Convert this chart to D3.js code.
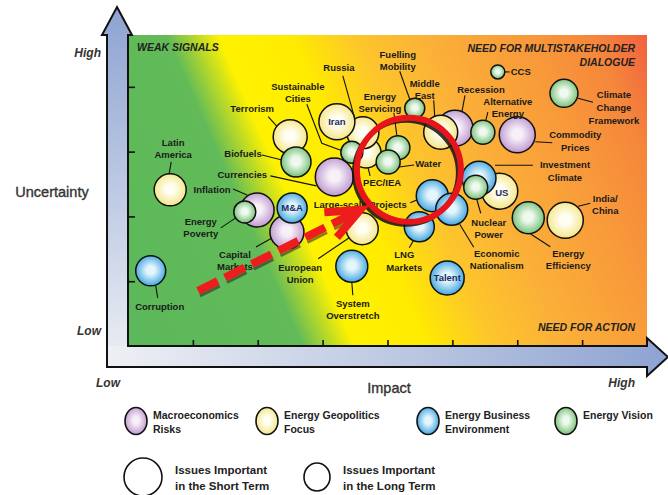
<!DOCTYPE html>
<html>
<head>
<meta charset="utf-8">
<script src="https://cdn.jsdelivr.net/npm/d3@7/dist/d3.min.js"></script>
<style>
  body { margin: 0; background: #fff; }
  svg { display: block; font-family: "Liberation Sans", Arial, sans-serif; }
</style>
</head>
<body>
<div id="chart"></div>
<script>
// Issue map: impact (x) against uncertainty (y), bubble colour = theme

const themes = ["Macroeconomics Risks", "Energy Geopolitics Focus", "Energy Business Environment", "Energy Vision"];
const themeLegend = [["Macroeconomics", "Risks"], ["Energy Geopolitics", "Focus"], ["Energy Business", "Environment"], ["Energy Vision"]];
const themeFills = [["#f7f0f9", "#bb92cb"], ["#fffef3", "#f4e47f"], ["#e4f5fd", "#36a1de"], ["#eff9ef", "#6dbd6d"]];

// listed in drawing order (back to front)
const issues = [
  "Latin America", "Corruption", "Inflation", "Energy Poverty", "Capital Markets", "M&A",
  "Terrorism", "Biofuels", "Currencies", "PEC/IEA", "Russia", "Iran", "Sustainable Cities",
  "Energy Servicing", "Water", "Fuelling Mobility", "Recession", "Middle East",
  "Alternative Energy", "CCS", "Climate Change Framework", "Commodity Prices", "US",
  "Investment Climate", "Nuclear Power", "India/China", "Energy Efficiency",
  "Large-scale Projects", "LNG Markets", "Economic Nationalism", "Talent",
  "System Overstretch", "European Union"
];
const issueTheme = [
  1, 2, 0, 3, 0, 2,
  1, 3, 0, 1, 1, 1, 3,
  3, 3, 3, 0, 1,
  3, 3, 3, 0, 1,
  2, 3, 1, 3,
  2, 2, 2, 2,
  2, 1
];
const impact = [
  0.65, 0.35, 1.99, 1.80, 2.45, 2.53,
  2.50, 2.59, 3.18, 3.67, 3.62, 3.22, 3.45,
  4.16, 4.01, 4.42, 5.04, 4.82,
  5.47, 5.70, 6.72, 6.00, 5.73,
  5.41, 5.36, 6.74, 6.17,
  4.69, 4.49, 4.99, 4.92,
  3.45, 3.61
];
const uncertainty = [
  2.41, 1.16, 2.10, 2.07, 1.76, 2.13,
  3.23, 2.84, 2.61, 2.98, 3.29, 3.46, 2.99,
  3.06, 2.84, 3.67, 3.36, 3.30,
  3.30, 4.23, 3.90, 3.26, 2.39,
  2.59, 2.45, 1.94, 1.98,
  2.32, 1.84, 2.11, 1.05,
  1.23, 1.81
];
const bubbleSize = [
  8.0, 7.5, 8.5, 5.5, 8.5, 7.5,
  8.5, 7.5, 9.5, 7.5, 8.0, 9.0, 5.5,
  6.0, 6.0, 5.0, 9.0, 8.5,
  6.0, 3.5, 7.0, 9.0, 9.0,
  8.5, 6.0, 9.0, 8.0,
  8.0, 7.5, 8.0, 8.5,
  8.0, 8.0
];

const impactTicks = [1, 2, 3, 4, 5, 6, 7];
const uncertaintyTicks = [1, 2, 3, 4];

// label text, offset of first line from bubble centre, leader line points (all px)
const labelLayout = {
  "Latin America": { text: ["Latin", "America"], at: [3, -47], lead: [[1, -28], [-1, -16]] },
  "Corruption": { text: ["Corruption"], at: [9, 36], lead: [[5, 15], [7, 27]] },
  "Inflation": { text: ["Inflation"], at: [-45, -20], lead: [[-24, -21], [-10, -15]] },
  "Energy Poverty": { text: ["Energy", "Poverty"], at: [-44, 10], lead: [[-24, 16], [-9, 6]] },
  "Capital Markets": { text: ["Capital", "Markets"], at: [-52, 23], lead: [[-31, 15], [-15, 6]] },
  "M&A": { text: ["M&A"], at: [0, 0], inside: true },
  "Terrorism": { text: ["Terrorism"], at: [-38, -28], lead: [[-22, -20], [-13, -10]] },
  "Biofuels": { text: ["Biofuels"], at: [-53, -8], lead: [[-34, -7], [-14, -2]] },
  "Currencies": { text: ["Currencies"], at: [-92, -2], lead: [[-64, -1], [-18, 9]] },
  "PEC/IEA": { text: ["PEC/IEA"], at: [16, 30], lead: [[4, 23], [2, 15]] },
  "Russia": { text: ["Russia"], at: [-24, -65], lead: [[-20, -57], [-8, -14]] },
  "Iran": { text: ["Iran"], at: [0, 0], inside: true },
  "Sustainable Cities": { text: ["Sustainable", "Cities"], at: [-54, -66], lead: [[-45, -48], [-30, -9], [-11, -2]] },
  "Energy Servicing": { text: ["Energy", "Servicing"], at: [-18, -51], lead: [[-4, -35], [-1, -12]] },
  "Water": { text: ["Water"], at: [40, 2], lead: [[26, 3], [11, 5]] },
  "Fuelling Mobility": { text: ["Fuelling", "Mobility"], at: [-17, -54], lead: [[-15, -37], [-5, -9]] },
  "Recession": { text: ["Recession"], at: [26, -39], lead: [[10, -33], [7, -17]] },
  "Middle East": { text: ["Middle", "East"], at: [-16, -49], lead: [[-7, -32], [-6, -16]] },
  "Alternative Energy": { text: ["Alternative", "Energy"], at: [25, -31], lead: [[5, -20], [3, -12]] },
  "CCS": { text: ["CCS"], at: [23, 0], lead: [[7, 0], [12, 0]] },
  "Climate Change Framework": { text: ["Climate", "Change", "Framework"], at: [50, 1], step: 13, lead: [[14, 5], [29, 9]] },
  "Commodity Prices": { text: ["Commodity", "Prices"], at: [58, 0], step: 13, lead: [[18, 7], [35, 8]] },
  "US": { text: ["US"], at: [2, 2], inside: true },
  "Investment Climate": { text: ["Investment", "Climate"], at: [86, -14], step: 13, lead: [[16, -13], [54, -13]] },
  "Nuclear Power": { text: ["Nuclear", "Power"], at: [13, 35], lead: [[5, 26], [1, 12]] },
  "India/China": { text: ["India/", "China"], at: [40, -22], lead: [[13, -14], [25, -17]] },
  "Energy Efficiency": { text: ["Energy", "Efficiency"], at: [40, 36], lead: [[2, 16], [22, 29]] },
  "Large-scale Projects": { text: ["Large-scale Projects"], at: [-72, 9], lead: [[-22, 7], [-15, 4]] },
  "LNG Markets": { text: ["LNG", "Markets"], at: [-15, 28], step: 13, lead: [[-6, 14], [-10, 21]] },
  "Economic Nationalism": { text: ["Economic", "Nationalism"], at: [45, 44], lead: [[8, 15], [22, 38]] },
  "Talent": { text: ["Talent"], at: [0, 0], inside: true },
  "System Overstretch": { text: ["System", "Overstretch"], at: [1, 37], lead: [[0, 16], [1, 29]] },
  "European Union": { text: ["European", "Union"], at: [-62, 39], lead: [[-44, 30], [-13, 9]] }
};

// highlighted area and trend arrow, in impact/uncertainty units
const focusRing = { impact: 4.33, uncertainty: 2.72, radius: 52 };
const trendArrow = { from: [1.08, 0.85], to: [3.58, 2.10] };

const width = 668, height = 495;
const plot = { left: 128, top: 35, right: 647, bottom: 346 };

const x = d3.scaleLinear().domain([0, 8]).range([plot.left, plot.right]);
const y = d3.scaleLinear().domain([0, 4.8]).range([plot.bottom, plot.top]);
const r = d3.scaleLinear().domain([0, 10]).range([0, 20]);

const svg = d3.select("#chart").append("svg")
  .attr("width", width)
  .attr("height", height);

const defs = svg.append("defs");

// diagonal green -> yellow -> orange -> red field
const field = defs.append("linearGradient")
  .attr("id", "field")
  .attr("gradientUnits", "userSpaceOnUse")
  .attr("x1", 0).attr("y1", 0)
  .attr("x2", 549).attr("y2", -241);
[[0, "#5cb85a"], [0.23, "#62bb58"], [0.31, "#fff200"], [0.42, "#ffeb00"],
 [0.52, "#fdc62b"], [0.63, "#fbb038"], [0.78, "#f8993a"], [0.88, "#f5873b"], [0.95, "#f2683e"], [1, "#ee5040"]]
  .forEach(([o, c]) => field.append("stop").attr("offset", o).attr("stop-color", c));

const vGrad = defs.append("linearGradient")
  .attr("id", "axis-v").attr("gradientUnits", "userSpaceOnUse")
  .attr("x1", 0).attr("y1", 367).attr("x2", 0).attr("y2", 7);
vGrad.append("stop").attr("offset", 0).attr("stop-color", "#eceff4");
vGrad.append("stop").attr("offset", 1).attr("stop-color", "#8ea3d2");

const hGrad = defs.append("linearGradient")
  .attr("id", "axis-h").attr("gradientUnits", "userSpaceOnUse")
  .attr("x1", 107).attr("y1", 0).attr("x2", 668).attr("y2", 0);
hGrad.append("stop").attr("offset", 0).attr("stop-color", "#eef0f4");
hGrad.append("stop").attr("offset", 1).attr("stop-color", "#8ea3d2");

themeFills.forEach(([inner, outer], i) => {
  const g = defs.append("radialGradient").attr("id", `bubble-${i}`)
    .attr("cx", "50%").attr("cy", "48%").attr("r", "55%");
  g.append("stop").attr("offset", 0).attr("stop-color", inner);
  g.append("stop").attr("offset", 0.25).attr("stop-color", inner);
  g.append("stop").attr("offset", 1).attr("stop-color", outer);
});

// axis arrows
svg.append("path")
  .attr("d", "M107,367 L107,35 L102,35 L117,7 L132,35 L128,35 L128,367 Z")
  .attr("fill", "url(#axis-v)");
svg.append("path")
  .attr("d", "M107,346 L647,346 L647,338 L668,357 L647,376 L647,367 L107,367 Z")
  .attr("fill", "url(#axis-h)");

svg.append("rect")
  .attr("x", plot.left).attr("y", plot.top)
  .attr("width", plot.right - plot.left).attr("height", plot.bottom - plot.top)
  .attr("fill", "url(#field)");

svg.append("path")
  .attr("d", "M117,7 L132,35 L128,35 L128,346 L647,346 L647,338 L668,357 L647,376 L647,367 L107,367 L107,35 L102,35 Z")
  .attr("fill", "none")
  .attr("stroke", "#111")
  .attr("stroke-width", 2)
  .attr("stroke-linejoin", "miter");

svg.append("g")
  .attr("transform", `translate(0,${plot.bottom})`)
  .call(d3.axisBottom(x).tickValues(impactTicks).tickSize(-6).tickFormat(""))
  .call(g => g.select(".domain").remove())
  .call(g => g.selectAll("line").attr("stroke", "#111").attr("stroke-width", 1.6));

svg.append("g")
  .attr("transform", `translate(${plot.left},0)`)
  .call(d3.axisLeft(y).tickValues(uncertaintyTicks).tickSize(-7).tickFormat(""))
  .call(g => g.select(".domain").remove())
  .call(g => g.selectAll("line").attr("stroke", "#111").attr("stroke-width", 1.6));

// quadrant captions
const caption = (tx, ty, anchor, s) => svg.append("text")
  .attr("x", tx).attr("y", ty).attr("text-anchor", anchor)
  .attr("font-size", 10.5).attr("font-weight", "bold").attr("font-style", "italic")
  .attr("fill", "#222").text(s);
caption(137, 51, "start", "WEAK SIGNALS");
caption(635, 52, "end", "NEED FOR MULTISTAKEHOLDER");
caption(635, 66, "end", "DIALOGUE");
caption(635, 331, "end", "NEED FOR ACTION");

// axis words
const axisWord = (tx, ty, anchor, s) => svg.append("text")
  .attr("x", tx).attr("y", ty).attr("text-anchor", anchor)
  .attr("font-size", 12).attr("font-weight", "bold").attr("font-style", "italic")
  .attr("fill", "#333").text(s);
axisWord(101, 57, "end", "High");
axisWord(101, 335, "end", "Low");
axisWord(96, 387, "start", "Low");
axisWord(635, 387, "end", "High");

svg.append("text").attr("x", 52).attr("y", 197).attr("text-anchor", "middle")
  .attr("font-size", 14.5).attr("fill", "#333")
  .attr("stroke", "#333").attr("stroke-width", 0.35).text("Uncertainty");
svg.append("text").attr("x", 389).attr("y", 393).attr("text-anchor", "middle")
  .attr("font-size", 14.5).attr("fill", "#333")
  .attr("stroke", "#333").attr("stroke-width", 0.35).text("Impact");

// bubbles
const data = issues.map((name, i) => ({
  name,
  theme: issueTheme[i],
  cx: x(impact[i]),
  cy: y(uncertainty[i]),
  r: r(bubbleSize[i]),
  layout: labelLayout[name]
}));

const line = d3.line();

svg.append("g")
  .selectAll("path")
  .data(data.filter(d => d.layout.lead))
  .join("path")
  .attr("d", d => line(d.layout.lead.map(([dx, dy]) => [d.cx + dx, d.cy + dy])))
  .attr("fill", "none")
  .attr("stroke", "#111")
  .attr("stroke-width", 1.1);

svg.append("g")
  .selectAll("circle")
  .data(data)
  .join("circle")
  .attr("cx", d => d.cx)
  .attr("cy", d => d.cy)
  .attr("r", d => d.r)
  .attr("fill", d => `url(#bubble-${d.theme})`)
  .attr("stroke", "#111")
  .attr("stroke-width", 1.5);

svg.append("g")
  .selectAll("text")
  .data(data)
  .join("text")
  .attr("text-anchor", "middle")
  .attr("font-size", 9.5)
  .attr("font-weight", "bold")
  .attr("fill", d => d.layout.inside ? "#1d2b5e" : "#1a1a1a")
  .each(function (d) {
    const t = d3.select(this);
    const step = d.layout.step || 12;
    d.layout.text.forEach((s, k) => {
      t.append("tspan")
        .attr("x", d.cx + d.layout.at[0])
        .attr("y", d.cy + d.layout.at[1] + k * step)
        .attr("dy", "0.35em")
        .text(s);
    });
  });

// highlighted ring with drop shadow
const ringX = x(focusRing.impact), ringY = y(focusRing.uncertainty);
svg.append("circle")
  .attr("cx", ringX - 3).attr("cy", ringY + 3).attr("r", focusRing.radius)
  .attr("fill", "none").attr("stroke", "#111").attr("stroke-width", 4).attr("opacity", 0.85);
svg.append("circle")
  .attr("cx", ringX).attr("cy", ringY).attr("r", focusRing.radius)
  .attr("fill", "none").attr("stroke", "#e8141b").attr("stroke-width", 6);

// dashed trend arrow
const a0 = [x(trendArrow.from[0]), y(trendArrow.from[1])];
const a1 = [x(trendArrow.to[0]), y(trendArrow.to[1])];
const ang = Math.atan2(a1[1] - a0[1], a1[0] - a0[0]);
const headLen = 36, headSpread = 23 * Math.PI / 180;
const arm = s => [a1[0] - headLen * Math.cos(ang + s), a1[1] - headLen * Math.sin(ang + s)];
const shaftEnd = [a1[0] - 10 * Math.cos(ang), a1[1] - 10 * Math.sin(ang)];

svg.append("path")
  .attr("d", line([[a0[0] + 2, a0[1] + 5], [shaftEnd[0] + 2, shaftEnd[1] + 5]]))
  .attr("stroke", "#222").attr("stroke-width", 3).attr("stroke-dasharray", "22,8")
  .attr("opacity", 0.55).attr("fill", "none");
svg.append("path")
  .attr("d", line([a0, shaftEnd]))
  .attr("stroke", "#ee1c1c").attr("stroke-width", 8).attr("stroke-dasharray", "22,8")
  .attr("fill", "none");
svg.append("path")
  .attr("d", line([arm(headSpread), a1, arm(-headSpread)]))
  .attr("stroke", "#ee1c1c").attr("stroke-width", 8)
  .attr("stroke-linejoin", "miter").attr("fill", "none");

// legend: themes
const legendX = [136, 267, 428, 566];
const legend = svg.append("g")
  .selectAll("g")
  .data(themes)
  .join("g")
  .attr("transform", (d, i) => `translate(${legendX[i]},421)`);
legend.append("ellipse")
  .attr("rx", 11).attr("ry", 13.5)
  .attr("fill", (d, i) => `url(#bubble-${i})`)
  .attr("stroke", "#111").attr("stroke-width", 1.6);
legend.append("text")
  .attr("font-size", 10.5).attr("font-weight", "bold").attr("fill", "#222")
  .each(function (d, i) {
    themeLegend[i].forEach((s, k) => {
      d3.select(this).append("tspan").attr("x", 17).attr("y", -2 + k * 14).text(s);
    });
  });

// legend: time horizon
const horizon = [
  { cx: 143, rx: 19, ry: 19, tx: 175, text: ["Issues Important", "in the Short Term"] },
  { cx: 317, rx: 13, ry: 14, tx: 343, text: ["Issues Important", "in the Long Term"] }
];
horizon.forEach(h => {
  svg.append("ellipse")
    .attr("cx", h.cx).attr("cy", 477).attr("rx", h.rx).attr("ry", h.ry)
    .attr("fill", "#fff").attr("stroke", "#111").attr("stroke-width", 1.6);
  const t = svg.append("text").attr("font-size", 11.5).attr("font-weight", "bold").attr("fill", "#222");
  h.text.forEach((s, k) => t.append("tspan").attr("x", h.tx).attr("y", 474 + k * 16).text(s));
});
</script>
</body>
</html>
